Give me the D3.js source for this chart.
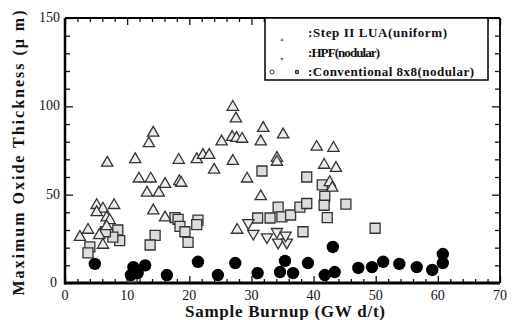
<!DOCTYPE html>
<html>
<head>
<meta charset="utf-8">
<script src="https://cdn.jsdelivr.net/npm/d3@7"></script>
<style>
  body { margin: 0; background: #fff; }
  text { font-family: "Liberation Serif", "Times New Roman", serif; fill: #111; }
</style>
</head>
<body>
<script>
// data: [burnup GWd/t, max oxide thickness um]
const luaPoints = [
  [14.2, 85], [13.5, 79], [6.8, 68], [11.3, 70], [11.9, 59], [13.8, 59], [16.1, 56], [18.4, 57.5],
  [13.2, 51], [15.1, 51], [14.2, 41], [16.1, 37],
  [5.1, 44], [6.1, 42], [7.9, 44], [5.1, 40], [6.7, 37], [7.2, 35.5], [3.7, 30], [2.4, 26],
  [5.5, 27], [6.1, 21.5], [6.7, 32],
  [27, 99.6], [27.5, 93], [25.2, 80], [26.9, 82.6], [27.6, 82], [28.5, 81.5], [31.9, 87.7],
  [31.5, 80], [35.1, 84], [18.3, 69.6], [21.2, 70], [22.2, 72.4], [23.2, 72.4], [27, 69], [24, 64],
  [34.1, 70.7], [34.1, 68.5], [29.3, 59], [18.7, 56.6], [31.5, 49], [27.7, 30],
  [40.5, 77], [43.2, 76.4], [41.7, 66.8], [43.6, 65], [42.6, 57], [43, 53.8]
];
const hpfPoints = [
  [29.5, 34], [30.3, 28], [32.5, 26], [34.1, 29], [34.3, 23], [35.7, 23], [35.5, 27]
];
const convSquares = [
  [8.5, 30], [8.8, 24], [7.7, 26], [4.0, 20.5], [3.7, 17], [6.5, 29], [14.5, 27], [13.7, 21.5], [10.8, 3.4],
  [17.7, 37], [18.2, 36], [18.5, 32], [19.3, 29], [19.8, 23], [21.4, 35.6], [21.2, 33],
  [31.7, 63.4], [34.3, 43], [31, 36.8], [33, 36.8], [34.9, 37.4], [36.3, 38.5], [37.8, 43], [38.9, 45],
  [38.9, 60], [41.4, 55.5], [41.8, 49], [41.7, 44], [42.2, 37], [38.3, 29], [45.2, 44.7], [49.9, 31]
];
const convCircles = [
  [4.8, 10.8], [11, 9], [11.7, 5.6], [12.9, 10], [10.6, 4.5], [16.4, 4.5], [21.4, 12], [27.4, 11.3],
  [24.6, 4.5], [31, 5.6], [34.6, 6.2], [35.4, 12.5], [36.7, 5.6], [39.1, 11.3], [41.8, 4.5], [43.4, 6.2],
  [43.1, 20.4], [47.2, 8.5], [49.4, 9], [51.2, 12], [53.8, 10.8], [56.6, 9], [59.1, 7.4],
  [60.8, 16.4], [60.8, 11.3]
];
const xTicks = [0, 10, 20, 30, 40, 50, 60, 70];
const yTicks = [0, 50, 100, 150];
const legendLabels = [":Step II LUA(uniform)", ":HPF(nodular)", ":Conventional 8x8(nodular)"];

const width = 512, height = 320;
const margin = {top: 18, right: 12, bottom: 37, left: 65};

const svg = d3.select("body").append("svg")
  .attr("width", width)
  .attr("height", height)
  .attr("font-family", "Liberation Serif");

const x = d3.scaleLinear().domain([0, 70]).range([margin.left, width - margin.right]);
const y = d3.scaleLinear().domain([0, 150]).range([height - margin.bottom, margin.top]);

// inward ticks on all four sides
const minorX = d3.range(0, 71, 2).filter(v => v % 10 !== 0);
const minorY = d3.range(0, 151, 10).filter(v => v % 50 !== 0);

function tickAxis(axisFn, scale, values, size) {
  return axisFn(scale).tickValues(values).tickSize(size).tickFormat("");
}

const x0 = x.range()[0], x1 = x.range()[1], y0 = y.range()[0], y1 = y.range()[1];

const axes = svg.append("g").attr("class", "axes");
axes.append("g").attr("transform", `translate(0,${y0})`).call(tickAxis(d3.axisTop, x, xTicks, 7));
axes.append("g").attr("transform", `translate(0,${y0})`).call(tickAxis(d3.axisTop, x, minorX, 4));
axes.append("g").attr("transform", `translate(0,${y1})`).call(tickAxis(d3.axisBottom, x, xTicks, 7));
axes.append("g").attr("transform", `translate(0,${y1})`).call(tickAxis(d3.axisBottom, x, minorX, 4));
axes.append("g").attr("transform", `translate(${x0},0)`).call(tickAxis(d3.axisRight, y, yTicks, 8));
axes.append("g").attr("transform", `translate(${x0},0)`).call(tickAxis(d3.axisRight, y, minorY, 5));
axes.append("g").attr("transform", `translate(${x1},0)`).call(tickAxis(d3.axisLeft, y, yTicks, 8));
axes.append("g").attr("transform", `translate(${x1},0)`).call(tickAxis(d3.axisLeft, y, minorY, 5));
axes.selectAll(".domain").remove();
axes.selectAll("line").attr("stroke", "#111").attr("stroke-width", 1.3);

// frame
svg.append("line").attr("x1", x0).attr("x2", x1).attr("y1", y0).attr("y2", y0)
  .attr("stroke", "#000").attr("stroke-width", 3);
svg.append("line").attr("x1", x0).attr("x2", x0).attr("y1", y0 + 1.5).attr("y2", y1)
  .attr("stroke", "#000").attr("stroke-width", 2.5);
svg.append("line").attr("x1", x0).attr("x2", x1).attr("y1", y1).attr("y2", y1)
  .attr("stroke", "#000").attr("stroke-width", 2);
svg.append("line").attr("x1", x1).attr("x2", x1).attr("y1", y0).attr("y2", y1)
  .attr("stroke", "#000").attr("stroke-width", 1.8);

// tick labels
svg.append("g").selectAll("text").data(xTicks).join("text")
  .attr("x", d => x(d)).attr("y", y0 + 17)
  .attr("text-anchor", "middle").attr("font-size", 14)
  .text(d => d);
svg.append("g").selectAll("text").data(yTicks).join("text")
  .attr("x", d => d === 0 ? x0 - 8 : x0 - 5).attr("y", d => y(d) + 4)
  .attr("text-anchor", "end").attr("font-size", 14)
  .text(d => d);

// axis titles
svg.append("text")
  .attr("x", 285).attr("y", 317)
  .attr("text-anchor", "middle").attr("font-size", 17).attr("font-weight", "bold")
  .attr("textLength", 200).attr("lengthAdjust", "spacing")
  .text("Sample Burnup (GW d/t)");
svg.append("text")
  .attr("transform", "translate(24,153) rotate(-90)")
  .attr("text-anchor", "middle").attr("font-size", 16).attr("font-weight", "bold")
  .attr("textLength", 285).attr("lengthAdjust", "spacing")
  .text("Maximum Oxide Thickness (\u03bc m)");

// points
const plot = svg.append("g");
const tri = d3.symbol().type(d3.symbolTriangle).size(55);
const sq = d3.symbol().type(d3.symbolSquare).size(100);

plot.selectAll("path.sq").data(convSquares).join("path")
  .attr("class", "sq")
  .attr("d", sq)
  .attr("transform", d => `translate(${x(d[0])},${y(d[1])})`)
  .attr("fill", "#dcdcdc").attr("stroke", "#333").attr("stroke-width", 1.3);

plot.selectAll("path.lua").data(luaPoints).join("path")
  .attr("class", "lua")
  .attr("d", tri)
  .attr("transform", d => `translate(${x(d[0])},${y(d[1])})`)
  .attr("fill", "#ececec").attr("stroke", "#333").attr("stroke-width", 1.3);

plot.selectAll("path.hpf").data(hpfPoints).join("path")
  .attr("class", "hpf")
  .attr("d", tri)
  .attr("transform", d => `translate(${x(d[0])},${y(d[1])}) rotate(180)`)
  .attr("fill", "#ececec").attr("stroke", "#333").attr("stroke-width", 1.3);

plot.selectAll("circle").data(convCircles).join("circle")
  .attr("cx", d => x(d[0])).attr("cy", d => y(d[1]))
  .attr("r", 6.2).attr("fill", "#000");

// legend box
const legend = svg.append("g");
legend.append("rect")
  .attr("x", 265).attr("y", y1).attr("width", 223).attr("height", 62)
  .attr("fill", "#fff").attr("stroke", "#000").attr("stroke-width", 1.5);
legend.selectAll("text").data(legendLabels).join("text")
  .attr("x", 308).attr("y", (d, i) => 37 + i * 19.5)
  .attr("font-size", 13).attr("font-weight", "bold")
  .attr("textLength", (d, i) => [139, 72, 166][i]).attr("lengthAdjust", "spacing")
  .text(d => d);
const tiny = d3.symbol().size(5);
legend.append("path").attr("d", tiny.type(d3.symbolTriangle)())
  .attr("transform", "translate(282,40)").attr("fill", "#777");
legend.append("path").attr("d", tiny.type(d3.symbolTriangle)())
  .attr("transform", "translate(282,59) rotate(180)").attr("fill", "#777");
legend.append("circle").attr("cx", 272).attr("cy", 72).attr("r", 2)
  .attr("fill", "none").attr("stroke", "#444");
legend.append("path").attr("d", d3.symbol().type(d3.symbolSquare).size(9)())
  .attr("transform", "translate(297,72)").attr("fill", "#888").attr("stroke", "#333");
</script>
</body>
</html>
